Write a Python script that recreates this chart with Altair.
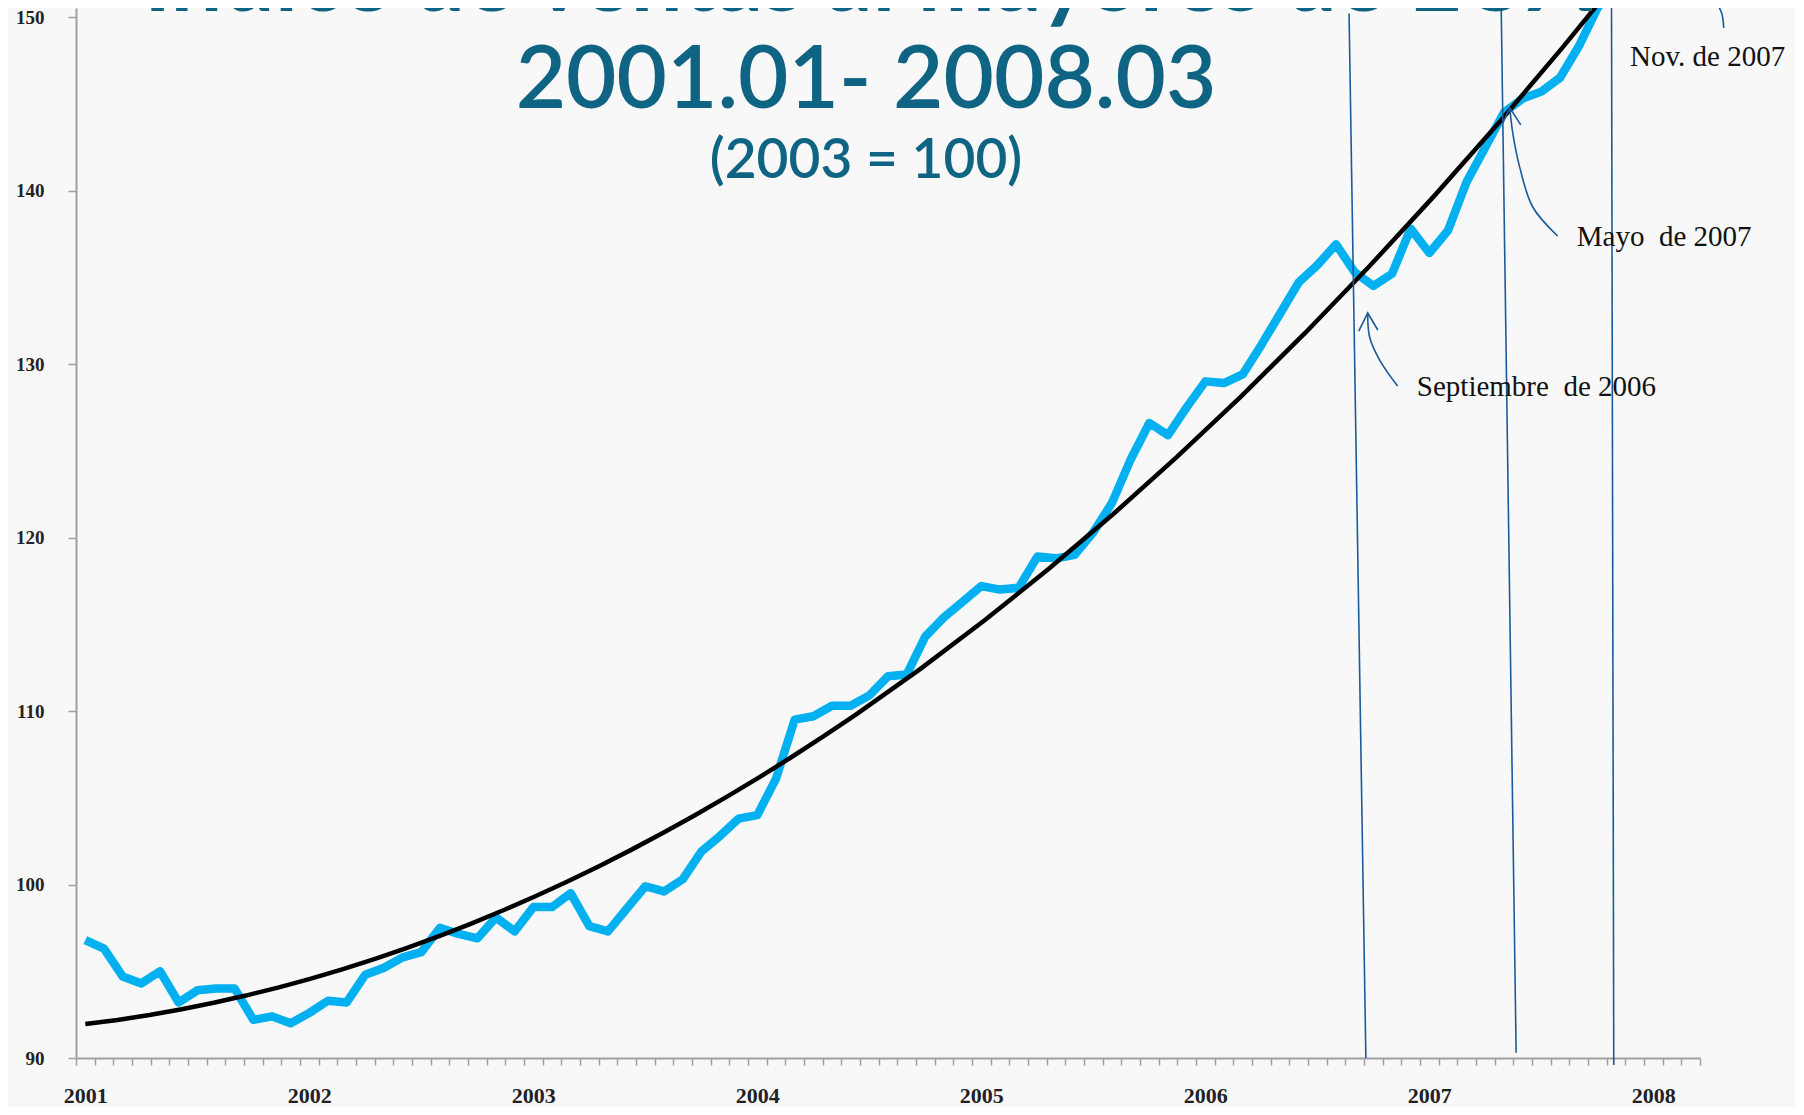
import altair as alt
import pandas as pd

# ---------------- data ----------------
# Monthly index of US wholesale sales, 2001.01 - 2008.03 (2003 = 100)
sales = [
    96.8, 96.3, 94.7, 94.3, 95.0, 93.2, 93.9, 94.0, 94.0, 92.2, 92.4, 92.0,      # 2001
    92.6, 93.3, 93.2, 94.8, 95.2, 95.8, 96.1, 97.5, 97.15, 96.9, 98.1, 97.3,     # 2002
    98.7, 98.7, 99.5, 97.6, 97.3, 98.6, 99.9, 99.6, 100.3, 101.9, 102.8, 103.8,  # 2003
    104.0, 106.1, 109.5, 109.7, 110.3, 110.3, 110.9, 112.0, 112.1, 114.3, 115.4, 116.3,  # 2004
    117.2, 117.0, 117.1, 118.9, 118.8, 119.0, 120.3, 122.0, 124.5, 126.6, 125.9, 127.5,  # 2005
    129.0, 128.9, 129.4, 131.1, 132.9, 134.7, 135.7, 136.9, 135.3, 134.5, 135.2, 137.8,  # 2006
    136.4, 137.7, 140.5, 142.5, 144.5, 145.3, 145.7, 146.5, 148.3, 150.5, 152.0, 152.8,  # 2007
    153.5, 154.6, 155.4,                                                          # 2008
]
months = list(range(len(sales)))  # 0 = 2001.01
first_year = 2001

y_ticks = [90, 100, 110, 120, 130, 140, 150]

# hand-drawn marker lines (month index / index value at top and bottom)
marker_m_top = [67.7, 75.85, 81.76]
marker_m_bot = [68.6, 76.65, 81.88]
marker_v_top = [150.2, 150.6, 150.6]
marker_v_bot = [90.0, 90.3, 89.6]

# annotation labels
ann_text = ["Septiembre\u00a0 de 2006", "Mayo\u00a0 de 2007", "Nov. de 2007"]
ann_m = [71.33, 79.9, 82.75]
ann_v = [128.67, 137.32, 147.69]

# curved pointer strokes
curve_group = ["sep"] * 4 + ["may"] * 5 + ["nov"] * 3
curve_m = [70.30, 69.34, 68.80, 68.70,
           78.87, 77.54, 76.84, 76.47, 76.31,
           87.29, 87.66, 87.77]
curve_v = [128.73, 130.23, 131.56, 132.94,
           137.38, 139.05, 141.35, 143.31, 144.76,
           150.98, 150.23, 149.37]

head_group = ["sep"] * 3 + ["may"] * 3
head_m = [68.22, 68.70, 69.24, 75.94, 76.31, 76.90]
head_v = [131.90, 132.94, 131.96, 143.89, 144.76, 143.78]

title1 = "Índice de ventas al mayores de EUA"
title2 = "2001.01- 2008.03"
title3 = "(2003 = 100)"

# ---------------- tables ----------------
df = pd.DataFrame({"m": months, "v": sales})
df_rules = pd.DataFrame({"x1": marker_m_top, "x2": marker_m_bot,
                         "y1": marker_v_top, "y2": marker_v_bot})
df_ann = pd.DataFrame({"m": ann_m, "v": ann_v, "t": ann_text})
df_curve = pd.DataFrame({"g": curve_group, "o": list(range(len(curve_m))),
                         "m": curve_m, "v": curve_v})
df_head = pd.DataFrame({"g": head_group, "o": list(range(len(head_m))),
                        "m": head_m, "v": head_v})

n = len(sales)
xscale = alt.Scale(domain=[-0.5, n - 0.5], nice=False, zero=False)
yscale = alt.Scale(domain=[90, 150.52], nice=False, zero=False)

label_font = "Liberation Serif"
axis_gray = "#a0a0a0"

xaxis = alt.Axis(
    values=[i - 0.5 for i in range(n + 1)],
    labelExpr=f"((datum.value + 0.5) % 12 == 0) ? '' + ({first_year} + (datum.value + 0.5) / 12) : ''",
    labelOffset=9.33, labelOverlap=False, labelFlush=False, labelBound=False,
    tickSize=7, tickColor=axis_gray, tickWidth=1.5,
    domainColor=axis_gray, domainWidth=2,
    labelFont=label_font, labelFontSize=22, labelFontWeight="bold", labelColor="#222222",
    labelPadding=20, grid=False, title=None,
)
yaxis = alt.Axis(
    values=y_ticks, format="d",
    tickSize=8, tickColor=axis_gray, tickWidth=1.5,
    domainColor=axis_gray, domainWidth=2,
    labelFont=label_font, labelFontSize=19, labelFontWeight="bold", labelColor="#222222",
    labelPadding=24, labelFlush=False, labelBound=False, grid=False, title=None,
)

X = lambda f: alt.X(f, scale=xscale, axis=xaxis)
Y = lambda f: alt.Y(f, scale=yscale, axis=yaxis)

blue = alt.Chart(df).mark_line(
    color="#00b0f0", strokeWidth=8.5, strokeJoin="round", clip=True
).encode(x=X("m:Q"), y=Y("v:Q"))

trend = alt.Chart(df).transform_regression(
    "m", "v", method="poly", order=2, extent=[0, n - 1]
).mark_line(color="#000000", strokeWidth=4.5, clip=True).encode(x=X("m:Q"), y=Y("v:Q"))

line_blue = "#1d5a9c"
rules = alt.Chart(df_rules).mark_rule(color=line_blue, strokeWidth=1.6).encode(
    x=X("x1:Q"), x2="x2:Q", y=Y("y1:Q"), y2="y2:Q"
)

curves = alt.Chart(df_curve).mark_line(
    color=line_blue, strokeWidth=1.6, interpolate="catmull-rom"
).encode(x=X("m:Q"), y=Y("v:Q"), detail="g:N", order="o:Q")

heads = alt.Chart(df_head).mark_line(
    color=line_blue, strokeWidth=1.6
).encode(x=X("m:Q"), y=Y("v:Q"), detail="g:N", order="o:Q")

labels = alt.Chart(df_ann).mark_text(
    align="left", baseline="middle", font=label_font, fontSize=29, color="#111111"
).encode(x=X("m:Q"), y=Y("v:Q"), text="t:N")

teal = "#0f6383"
t_df = pd.DataFrame({"t1": [title1], "t2": [title2], "t3": [title3]})
tt1 = alt.Chart(t_df).mark_text(
    align="center", baseline="alphabetic", font="Lato", fontSize=92,
    fontWeight="bold", color=teal
).encode(text="t1:N", x=alt.value(792), y=alt.value(3))
tt2 = alt.Chart(t_df).mark_text(
    align="center", baseline="alphabetic", font="Lato", fontSize=87,
    fontWeight=600, color=teal
).encode(text="t2:N", x=alt.value(790), y=alt.value(100))
tt3 = alt.Chart(t_df).mark_text(
    align="center", baseline="alphabetic", font="Lato", fontSize=55,
    fontWeight=600, color=teal
).encode(text="t3:N", x=alt.value(790), y=alt.value(170))

chart = alt.layer(blue, trend, rules, curves, heads, labels, tt1, tt2, tt3).properties(
    width=1624, height=1050,
    autosize=alt.AutoSizeParams(type="none"),
    padding={"left": 68, "top": 0, "right": 95, "bottom": 49},
    background="#f8f8f8",
).configure_view(stroke=None)

chart.save("out.html", embed_options={"renderer": "svg", "actions": False})
